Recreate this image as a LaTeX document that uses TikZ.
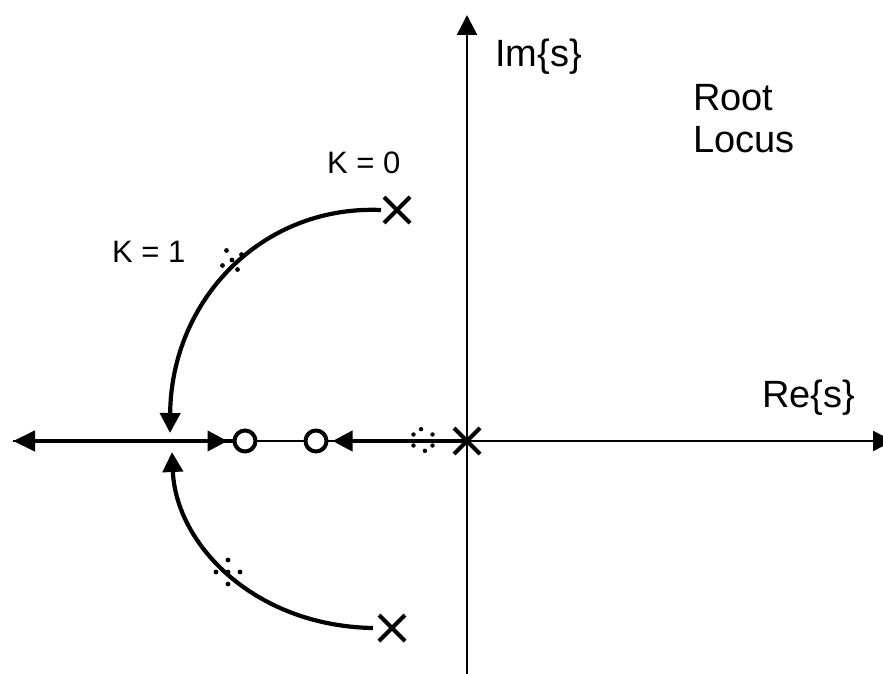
\documentclass[tikz,border=0pt]{standalone}
\usepackage{fontspec}
\setmainfont{Liberation Sans}
\usetikzlibrary{arrows.meta,shapes.misc}
\begin{document}
\begin{tikzpicture}[x=1pt,y=-1pt,
  axis/.style={line width=2.4pt},
  locus/.style={line width=4.2pt},
  tri/.style={-{Triangle[length=20pt,width=20pt]}},
  pole/.style={cross out,draw,line width=4pt,minimum size=22pt,inner sep=0pt},
  zero/.style={circle,draw,line width=4pt,minimum size=21pt,inner sep=0pt,fill=white},
  lbl/.style={font=\fontsize{38}{42}\selectfont,inner sep=0pt,anchor=base west},
  klbl/.style={font=\fontsize{31}{36}\selectfont,inner sep=0pt,anchor=base west},
  kdot/.style={fill=black}
]
\useasboundingbox (0,0) rectangle (883,674);
% axis end points
\coordinate (L) at (13,441);
\coordinate (R) at (893,441);
\coordinate (T) at (467,15);
\coordinate (B) at (467,676);
\coordinate (b) at (170,441);
% axes
\draw[axis,tri] (L) -- (R);
\draw[axis,tri] (B) -- (T);
% zeros and poles
\node[zero] (z1) at (245,441) {};
\node[zero] (z2) at (316,441) {};
\node[pole] (p1) at (467,441) {};
\node[pole] (p2) at (397,210) {};
\node[pole] (p3) at (392,628) {};
% real-axis loci
\draw[locus,-{Triangle[length=22pt,width=20pt]}] (b) -- (L);
\draw[locus] (b) -- (z1);
\draw[locus,tri,shorten >=5pt] ([xshift=38pt]b) -- (z1);
\draw[locus,tri,shorten >=4pt] (p1.center) -- (z2);
% complex loci
\draw[locus,tri] ([xshift=-3pt]p2.west) .. controls (262,205) and (171,300) .. ([yshift=8pt]b);
\draw[locus,tri] ([xshift=-6pt]p3.west) .. controls (255,626) and (176,545) .. ([xshift=2pt,yshift=-11pt]b);
% K = 1 markers (dotted asterisks)
\coordinate (m1) at (232,260);
\coordinate (m2) at (228,572);
\coordinate (m3) at (423,440);
\foreach \a in {0,90,180,270} {\fill[kdot] (m1) ++(\a+30:11pt) circle (2.4pt);}
\fill[kdot] (m1) circle (2.4pt);
\foreach \a in {0,90,180,270} {\fill[kdot] (m2) ++(\a:12pt) circle (2.4pt);}
\fill[kdot] (m2) circle (2.4pt);
\foreach \a in {30,100,150,210,280,330} {\fill[kdot] (m3) ++(\a:11pt) circle (2.2pt);}
% labels
\node[lbl] (im) at (495,67) {Im\{s\}};
\node[lbl] (re) at (762,407) {Re\{s\}};
\node[lbl] (root) at (693,111) {Root};
\node[lbl] (locus) at (693,153) {Locus};
\node[klbl] (k0) at (327,173) {K = 0};
\node[klbl] (k1) at (112,262) {K = 1};
\end{tikzpicture}
\end{document}
